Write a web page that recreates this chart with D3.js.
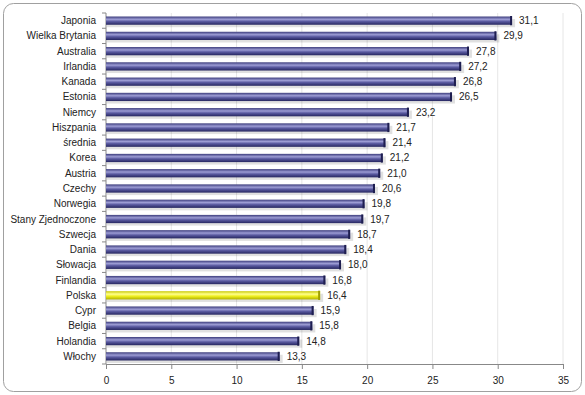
<!DOCTYPE html>
<html>
<head>
<meta charset="utf-8">
<script src="https://cdn.jsdelivr.net/npm/d3@7"></script>
<style>
  body { margin: 0; background: #fff; }
  svg { display: block; font-family: "Liberation Sans", Arial, sans-serif; }
</style>
</head>
<body>
<div id="chart"></div>
<script>
// wartości
const countries = ['Japonia', 'Wielka Brytania', 'Australia', 'Irlandia', 'Kanada', 'Estonia',
    'Niemcy', 'Hiszpania', 'średnia', 'Korea', 'Austria', 'Czechy', 'Norwegia',
    'Stany Zjednoczone', 'Szwecja', 'Dania', 'Słowacja', 'Finlandia', 'Polska',
    'Cypr', 'Belgia', 'Holandia', 'Włochy'];
const values = [31.1, 29.9, 27.8, 27.2, 26.8, 26.5, 23.2, 21.7, 21.4, 21.2, 21.0, 20.6, 19.8,
    19.7, 18.7, 18.4, 18.0, 16.8, 16.4, 15.9, 15.8, 14.8, 13.3];
const xTicks = [0, 5, 10, 15, 20, 25, 30, 35];
const highlight = 'Polska';

const width = 585, height = 395;
const margin = { top: 13, right: 22, bottom: 31, left: 106 };

const svg = d3.select('#chart').append('svg')
    .attr('width', width)
    .attr('height', height);

const defs = svg.append('defs');
const blue = defs.append('linearGradient').attr('id', 'gBlue')
    .attr('x1', 0).attr('y1', 0).attr('x2', 0).attr('y2', 1);
blue.append('stop').attr('offset', '0%').attr('stop-color', '#3c3c7c');
blue.append('stop').attr('offset', '35%').attr('stop-color', '#9c9cd4');
blue.append('stop').attr('offset', '60%').attr('stop-color', '#5a5aa0');
blue.append('stop').attr('offset', '100%').attr('stop-color', '#262660');

const yellow = defs.append('linearGradient').attr('id', 'gYellow')
    .attr('x1', 0).attr('y1', 0).attr('x2', 0).attr('y2', 1);
yellow.append('stop').attr('offset', '0%').attr('stop-color', '#c8c800');
yellow.append('stop').attr('offset', '35%').attr('stop-color', '#ffff90');
yellow.append('stop').attr('offset', '60%').attr('stop-color', '#f0f020');
yellow.append('stop').attr('offset', '100%').attr('stop-color', '#b0b000');

// ramka
svg.append('rect')
    .attr('x', 3.5).attr('y', 3.5)
    .attr('width', width - 7).attr('height', height - 7)
    .attr('rx', 10)
    .attr('fill', '#fff')
    .attr('stroke', '#a0a0a0')
    .attr('stroke-width', 1);

const g = svg.append('g')
    .attr('transform', `translate(${margin.left},${margin.top})`);

const innerWidth = width - margin.left - margin.right;
const innerHeight = height - margin.top - margin.bottom;

const x = d3.scaleLinear().domain([0, 35]).range([0, innerWidth]);
const y = d3.scaleBand().domain(countries).range([0, innerHeight]).paddingInner(0.46).paddingOuter(0.23);

// siatka
g.append('g')
    .selectAll('line')
    .data(xTicks.slice(1))
    .join('line')
    .attr('x1', d => x(d)).attr('x2', d => x(d))
    .attr('y1', 0).attr('y2', innerHeight)
    .attr('stroke', '#e6e6e6');

// oś X
const xAxis = g.append('g')
    .attr('transform', `translate(0,${innerHeight})`)
    .call(d3.axisBottom(x).tickValues(xTicks).tickSize(5).tickPadding(8).tickFormat(d3.format('d')));
xAxis.select('.domain').attr('stroke', '#888');
xAxis.selectAll('line').attr('stroke', '#888');
xAxis.selectAll('text').attr('fill', '#222').style('font-size', '10px');

// oś Y
g.append('line')
    .attr('x1', 0).attr('x2', 0).attr('y1', 0).attr('y2', innerHeight)
    .attr('stroke', '#888');
g.append('g')
    .selectAll('line')
    .data(d3.range(countries.length + 1))
    .join('line')
    .attr('x1', -4).attr('x2', 0)
    .attr('y1', i => i * innerHeight / countries.length)
    .attr('y2', i => i * innerHeight / countries.length)
    .attr('stroke', '#888');

g.append('g')
    .selectAll('text')
    .data(countries)
    .join('text')
    .attr('x', -10)
    .attr('y', d => y(d) + y.bandwidth() / 2)
    .attr('dy', '0.35em')
    .attr('text-anchor', 'end')
    .attr('fill', '#222')
    .style('font-size', '10px')
    .text(d => d);

// słupki
const bars = g.append('g')
    .selectAll('g')
    .data(countries.map((c, i) => ({ name: c, value: values[i] })))
    .join('g');

// cień
bars.append('rect')
    .attr('x', 1)
    .attr('y', d => y(d.name) + 2.5)
    .attr('width', d => x(d.value) + 2)
    .attr('height', y.bandwidth())
    .attr('fill', '#000')
    .attr('opacity', 0.12);

bars.append('rect')
    .attr('x', 0)
    .attr('y', d => y(d.name))
    .attr('width', d => x(d.value))
    .attr('height', y.bandwidth())
    .attr('fill', d => d.name === highlight ? 'url(#gYellow)' : 'url(#gBlue)');

// końcówka
bars.append('rect')
    .attr('x', d => x(d.value) - 2)
    .attr('y', d => y(d.name) - 0.5)
    .attr('width', 2)
    .attr('height', y.bandwidth() + 1)
    .attr('fill', d => d.name === highlight ? '#a0a000' : '#1e1e50');

bars.append('text')
    .attr('x', d => x(d.value) + 7)
    .attr('y', d => y(d.name) + y.bandwidth() / 2)
    .attr('dy', '0.35em')
    .attr('fill', '#222')
    .style('font-size', '10px')
    .text(d => d3.format('.1f')(d.value).replace('.', ','));
</script>
</body>
</html>
